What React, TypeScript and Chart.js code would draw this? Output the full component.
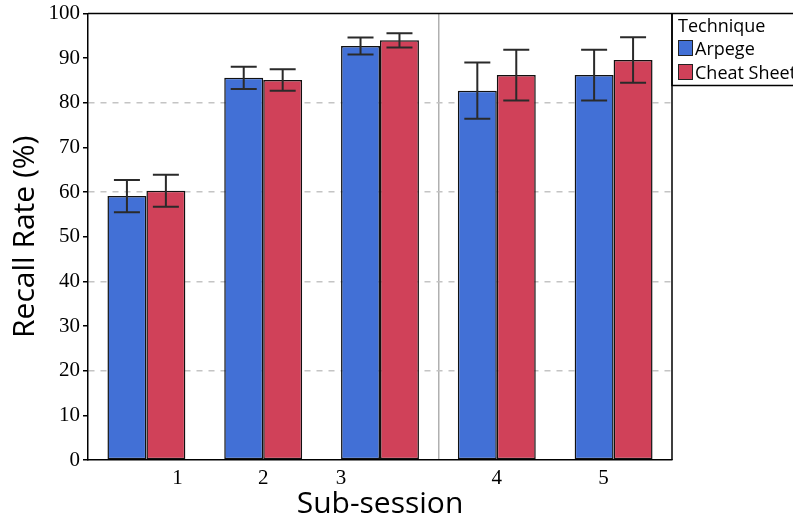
import React, { useEffect, useRef } from "react";
import { Chart, registerables } from "chart.js";

Chart.register(...registerables);

const categories = ["1", "2", "3", "4", "5"];
const arpegeMeans = [59.1, 85.6, 92.7, 82.7, 86.2];
const arpegeErrors = [3.6, 2.5, 1.9, 6.3, 5.7];
const cheatMeans = [60.3, 85.1, 94.0, 86.2, 89.6];
const cheatErrors = [3.6, 2.4, 1.6, 5.7, 5.1];
const yTicks = [0, 10, 20, 30, 40, 50, 60, 70, 80, 90, 100];
const dashedGridValues = [20, 40, 60, 80];
const legendTitle = "Technique";
const seriesNames = ["Arpege", "Cheat Sheet"];

const BLUE = "#4270d6";
const RED = "#d04159";
const labelOffsets = [31, 0, -39, 0, -10];

const errorBarPlugin = {
  id: "errorBars",
  afterDatasetsDraw(chart: any) {
    const ctx = chart.ctx;
    const y = chart.scales.y;
    const errs = [arpegeErrors, cheatErrors];
    ctx.save();
    ctx.strokeStyle = "#2a2a2a";
    ctx.lineWidth = 2;
    chart.data.datasets.forEach((ds: any, di: number) => {
      const meta = chart.getDatasetMeta(di);
      meta.data.forEach((bar: any, i: number) => {
        const v = ds.data[i];
        const e = errs[di][i];
        const top = y.getPixelForValue(v + e);
        const bot = y.getPixelForValue(v - e);
        const x = bar.x;
        const hw = 13;
        ctx.beginPath();
        ctx.moveTo(x, top);
        ctx.lineTo(x, bot);
        ctx.moveTo(x - hw, top);
        ctx.lineTo(x + hw, top);
        ctx.moveTo(x - hw, bot);
        ctx.lineTo(x + hw, bot);
        ctx.stroke();
      });
    });
    ctx.restore();
  },
};

const framePlugin = {
  id: "frame",
  afterDraw(chart: any) {
    const ctx = chart.ctx;
    const a = chart.chartArea;
    const xs = chart.scales.x;
    ctx.save();
    // x labels
    ctx.fillStyle = "#000";
    ctx.font = '21px "Liberation Serif", serif';
    ctx.textAlign = "center";
    ctx.textBaseline = "middle";
    categories.forEach((c, i) => {
      ctx.fillText(c, xs.getPixelForValue(i) + labelOffsets[i], a.bottom + 18);
    });
    // frame lines
    ctx.strokeStyle = "#000";
    ctx.lineWidth = 1.5;
    ctx.beginPath();
    ctx.moveTo(a.left, a.top);
    ctx.lineTo(chart.width, a.top);
    ctx.moveTo(a.right, a.top);
    ctx.lineTo(a.right, a.bottom);
    ctx.stroke();
    // legend box
    const lx = a.right;
    ctx.beginPath();
    ctx.moveTo(lx, a.top);
    ctx.lineTo(lx, a.top + 72);
    ctx.lineTo(chart.width, a.top + 72);
    ctx.stroke();
    ctx.textAlign = "left";
    ctx.textBaseline = "alphabetic";
    ctx.font = '18px "Open Sans", sans-serif';
    ctx.fillStyle = "#000";
    ctx.fillText(legendTitle, lx + 6, 32);
    const colors = [BLUE, RED];
    seriesNames.forEach((n, i) => {
      const sy = 40 + i * 24;
      ctx.fillStyle = colors[i];
      ctx.fillRect(lx + 6, sy, 15, 16);
      ctx.lineWidth = 1;
      ctx.strokeStyle = "#222";
      ctx.strokeRect(lx + 6.5, sy + 0.5, 14, 15);
      ctx.fillStyle = "#000";
      ctx.fillText(n, lx + 23, sy + 15);
    });
    ctx.restore();
  },
};

export default function App() {
  const ref = useRef<HTMLCanvasElement>(null);
  useEffect(() => {
    if (!ref.current) return;
    const chart = new Chart(ref.current, {
      type: "bar",
      data: {
        labels: categories,
        datasets: [
          {
            label: seriesNames[0],
            data: arpegeMeans,
            backgroundColor: BLUE,
            borderColor: "#111",
            borderWidth: 1.5,
            borderSkipped: false,
          },
          {
            label: seriesNames[1],
            data: cheatMeans,
            backgroundColor: RED,
            borderColor: "#111",
            borderWidth: 1.5,
            borderSkipped: false,
          },
        ],
      },
      options: {
        animation: false,
        responsive: false,
        devicePixelRatio: 1,
        layout: { padding: { top: 12, right: 121, left: 0, bottom: 0 } },
        plugins: { legend: { display: false }, tooltip: { enabled: false } },
        datasets: { bar: { categoryPercentage: 0.667, barPercentage: 1 } },
        scales: {
          x: {
            ticks: { display: false },
            grid: {
              drawTicks: false,
              color: (c: any) => (c.index === 3 ? "#b0b0b0" : "rgba(0,0,0,0)"),
              lineWidth: 1.5,
            },
            border: { display: true, color: "#000", width: 1.5 },
            title: {
              display: true,
              text: "Sub-session",
              font: { family: "Open Sans", size: 30 },
              color: "#000",
              padding: { top: 0, bottom: 0 },
            },
            afterFit: (s: any) => {
              s.height = 62;
            },
          },
          y: {
            min: 0,
            max: 100,
            afterBuildTicks: (s: any) => {
              s.ticks = yTicks.map((v) => ({ value: v }));
            },
            ticks: {
              color: "#000",
              font: { family: "Liberation Serif", size: 21, lineHeight: 1 },
              padding: 3,
            },
            grid: {
              color: (c: any) =>
                c.tick && dashedGridValues.includes(c.tick.value) ? "#c4c4c4" : "rgba(0,0,0,0)",
              lineWidth: 1.5,
              tickColor: "#000",
              tickLength: 5,
              tickWidth: 1.5,
              tickBorderDash: [],
            },
            border: { display: true, color: "#000", width: 1.5, dash: [6, 6] },
            title: {
              display: true,
              text: "Recall Rate (%)",
              font: { family: "Open Sans", size: 30 },
              color: "#000",
              padding: { top: 7, bottom: 7 },
            },
            afterFit: (s: any) => {
              s.width = 88;
            },
          },
        },
      },
      plugins: [errorBarPlugin, framePlugin],
    });
    return () => chart.destroy();
  }, []);
  return (
    <div style={{ position: "fixed", left: 0, top: 0, width: 793, height: 522, background: "#fff" }}>
      <canvas ref={ref} width={793} height={522} />
    </div>
  );
}
